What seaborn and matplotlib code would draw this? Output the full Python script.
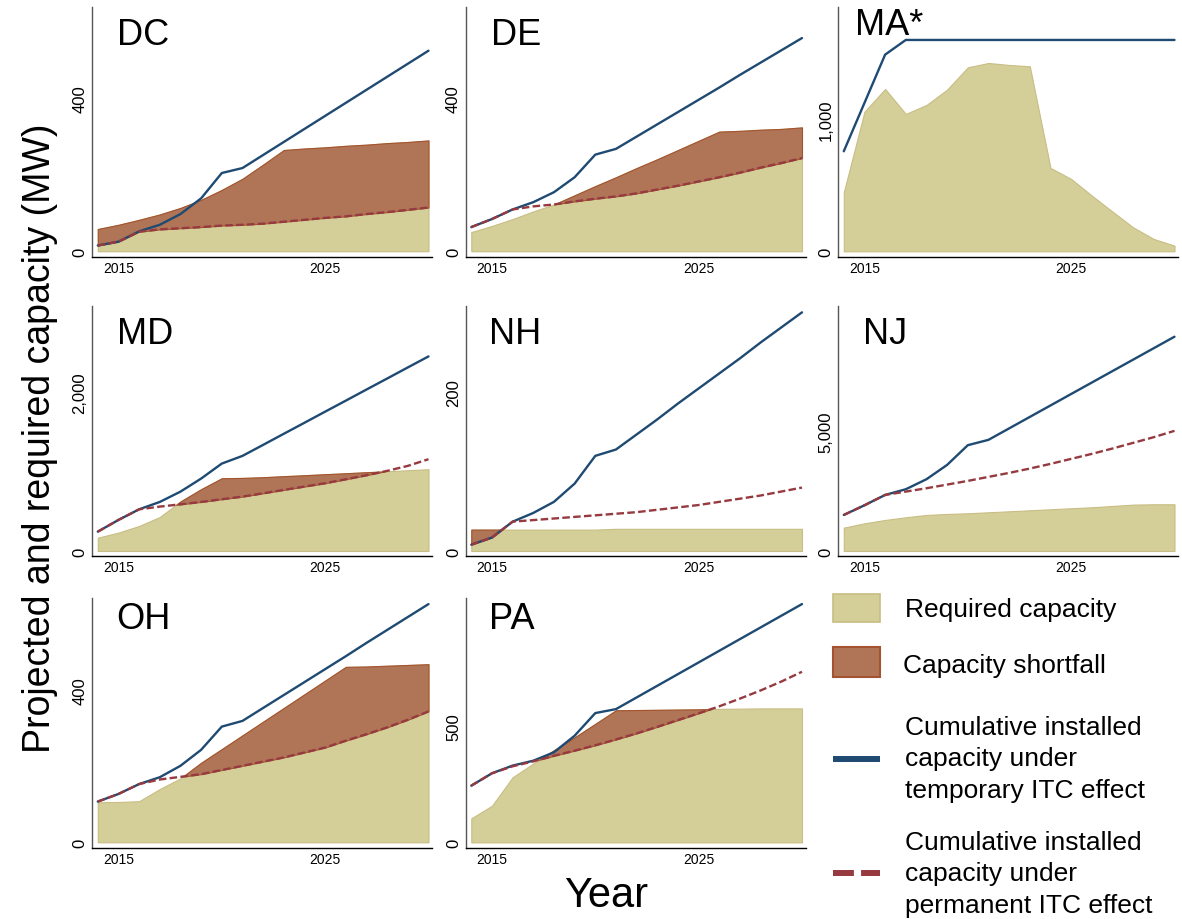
import matplotlib
matplotlib.use("Agg")
import numpy as np
import pandas as pd
import matplotlib.pyplot as plt
import seaborn as sns
from matplotlib.patches import Rectangle
from matplotlib.lines import Line2D
from matplotlib.ticker import FuncFormatter

# ---------------------------------------------------------------------------
# Data (MW), one value per year 2014-2030
# ---------------------------------------------------------------------------
YEARS = list(range(2014, 2031))

DC_REQUIRED = [58, 69, 82, 96, 113, 134, 160, 189, 226, 264, 268, 271, 275, 278, 282, 285, 289]
DC_TEMPORARY = [15, 25, 52, 69, 97, 138, 204, 217, 251, 285, 319, 353, 387, 421, 455, 489, 523]
DC_PERMANENT = [15, 25, 51, 57, 60, 63, 67, 69, 72, 77, 82, 87, 91, 97, 102, 108, 114]

DE_REQUIRED = [50, 66, 84, 104, 122, 146, 170, 193, 217, 240, 264, 288, 312, 314, 317, 319, 323]
DE_TEMPORARY = [63, 84, 109, 128, 154, 193, 252, 267, 299, 331, 363, 395, 427, 460, 492, 524, 556]
DE_PERMANENT = [63, 84, 109, 117, 122, 130, 137, 143, 151, 161, 171, 182, 193, 205, 218, 230, 243]

MA_REQUIRED = [446, 1055, 1227, 1038, 1106, 1222, 1390, 1423, 1408, 1398, 630, 547, 421, 300, 181, 93, 43]
MA_TEMPORARY = [756, 1121, 1486, 1597, 1597, 1597, 1597, 1597, 1597, 1597, 1597, 1597, 1597, 1597, 1597, 1597, 1597]

MD_REQUIRED = [168, 232, 316, 429, 625, 780, 918, 922, 931, 944, 956, 969, 981, 994, 1006, 1019, 1032]
MD_TEMPORARY = [244, 392, 526, 619, 749, 914, 1103, 1200, 1339, 1479, 1618, 1758, 1897, 2037, 2176, 2316, 2455]
MD_PERMANENT = [244, 392, 526, 560, 589, 619, 653, 686, 728, 771, 813, 855, 905, 956, 1011, 1074, 1158]

NH_REQUIRED = [27, 27, 27, 27, 27, 27, 27, 28, 28, 28, 28, 28, 28, 28, 28, 28, 28]
NH_TEMPORARY = [8, 17, 37, 48, 62, 85, 120, 128, 147, 166, 186, 205, 224, 243, 263, 282, 301]
NH_PERMANENT = [8, 17, 37, 39, 41, 43, 45, 47, 49, 52, 55, 58, 62, 66, 70, 75, 80]

NJ_REQUIRED = [978, 1159, 1299, 1411, 1508, 1550, 1578, 1620, 1662, 1704, 1746, 1788, 1830, 1885, 1941, 1955, 1955]
NJ_TEMPORARY = [1508, 1913, 2346, 2584, 3003, 3603, 4427, 4651, 5130, 5610, 6089, 6569, 7048, 7528, 8007, 8487, 8966]
NJ_PERMANENT = [1508, 1913, 2346, 2486, 2626, 2779, 2933, 3101, 3268, 3450, 3645, 3855, 4064, 4288, 4525, 4763, 5028]

OH_REQUIRED = [105, 106, 108, 140, 168, 209, 245, 281, 317, 353, 389, 425, 461, 462, 464, 466, 468]
OH_TEMPORARY = [107, 127, 153, 171, 201, 243, 304, 319, 353, 387, 421, 455, 489, 524, 558, 592, 626]
OH_PERMANENT = [107, 127, 153, 165, 172, 179, 190, 201, 212, 223, 236, 249, 267, 284, 302, 322, 344]

PA_REQUIRED = [103, 157, 279, 338, 395, 450, 508, 566, 567, 568, 569, 570, 572, 573, 574, 574, 574]
PA_TEMPORARY = [243, 296, 329, 350, 386, 457, 554, 571, 621, 671, 721, 771, 821, 871, 921, 971, 1021]
PA_PERMANENT = [243, 296, 326, 347, 371, 393, 416, 441, 467, 495, 524, 553, 583, 616, 651, 689, 731]

STATES = ["DC", "DE", "MA*", "MD", "NH", "NJ", "OH", "PA"]
Y_TICKS = {"DC": 400, "DE": 400, "MA*": 1000, "MD": 2000, "NH": 200, "NJ": 5000, "OH": 400, "PA": 500}

SERIES = {
    "DC": (DC_REQUIRED, DC_TEMPORARY, DC_PERMANENT),
    "DE": (DE_REQUIRED, DE_TEMPORARY, DE_PERMANENT),
    "MA*": (MA_REQUIRED, MA_TEMPORARY, None),
    "MD": (MD_REQUIRED, MD_TEMPORARY, MD_PERMANENT),
    "NH": (NH_REQUIRED, NH_TEMPORARY, NH_PERMANENT),
    "NJ": (NJ_REQUIRED, NJ_TEMPORARY, NJ_PERMANENT),
    "OH": (OH_REQUIRED, OH_TEMPORARY, OH_PERMANENT),
    "PA": (PA_REQUIRED, PA_TEMPORARY, PA_PERMANENT),
}

# ---------------------------------------------------------------------------
# Layout (pixels) and style
# ---------------------------------------------------------------------------
W, H = 1182, 920
COL_LEFT = [92, 465.5, 838]
ROW_TOP = [8, 307, 599]
AX_W, AX_H = 340, 250
X_LIM = (2013.72, 2030.17)
Y_LIM = {"DC": (-15, 637), "DE": (-15, 637), "MA*": (-43, 1846), "MD": (-63, 3091),
         "NH": (-6.3, 309), "NJ": (-209, 10251), "OH": (-15, 642), "PA": (-24, 1047)}
TITLE_OFFSET = {"DC": (25, 10), "DE": (25, 10), "MA*": (17, 0), "MD": (25, 10),
                "NH": (24, 10), "NJ": (25, 10), "OH": (24, 3), "PA": (24, 3)}

TAN, TAN_EDGE = "#D4CF99", "#C8BD84"
BROWN, BROWN_EDGE = "#B07557", "#A3532F"
BLUE = "#1F4A72"
RED = "#963A40"
DASH = (0, (3.2, 1.4))

sns.set_theme(style="white")
plt.rcParams["font.family"] = ["Liberation Sans", "DejaVu Sans"]
plt.rcParams["text.color"] = "black"
plt.rcParams["axes.labelcolor"] = "black"
plt.rcParams["xtick.color"] = "black"
plt.rcParams["ytick.color"] = "black"

fig = plt.figure(figsize=(W / 100, H / 100), dpi=100)

thousands = FuncFormatter(lambda v, _: f"{int(v):,}")

for i, state in enumerate(STATES):
    r, c = divmod(i, 3)
    left, top = COL_LEFT[c], ROW_TOP[r]
    ax = fig.add_axes([left / W, (H - top - AX_H) / H, AX_W / W, AX_H / H])

    required, temporary, permanent = SERIES[state]
    req = np.array(required, dtype=float)

    # Required capacity area
    ax.fill_between(YEARS, 0, req, facecolor=TAN, edgecolor=TAN_EDGE, linewidth=0.8, zorder=1)

    df = pd.DataFrame({"year": YEARS, "temporary": temporary})
    if permanent is not None:
        perm = np.array(permanent, dtype=float)
        # Shortfall: required capacity above the permanent-ITC trajectory
        ax.fill_between(YEARS, perm, req, where=req > perm, interpolate=True,
                        facecolor=BROWN, edgecolor=BROWN_EDGE, linewidth=0.8, zorder=2)
        df["permanent"] = permanent

    sns.lineplot(data=df, x="year", y="temporary", ax=ax, color=BLUE, linewidth=1.7, zorder=4)
    if permanent is not None:
        sns.lineplot(data=df, x="year", y="permanent", ax=ax, color=RED, linewidth=1.7,
                     linestyle=DASH, zorder=5)

    ax.set_xlim(*X_LIM)
    ax.set_ylim(*Y_LIM[state])
    ax.set_xticks([2015, 2025])
    ax.set_yticks([0, Y_TICKS[state]])
    ax.yaxis.set_major_formatter(thousands)
    ax.set_xlabel("")
    ax.set_ylabel("")
    ax.tick_params(axis="x", length=0, pad=3, labelsize=10, labelcolor="black")
    ax.tick_params(axis="y", length=0, pad=3.2, labelsize=12, labelcolor="black", labelrotation=90)
    for lab in ax.get_yticklabels():
        lab.set_va("center")
    sns.despine(ax=ax)
    ax.spines["left"].set_color("#555555")
    ax.spines["bottom"].set_color("black")
    ax.spines["left"].set_linewidth(1.0)
    ax.spines["bottom"].set_linewidth(1.0)
    ax.set_facecolor("white")

    ox, oy = TITLE_OFFSET[state]
    ax.text(ox / AX_W, 1 - oy / AX_H, state, transform=ax.transAxes, ha="left", va="top",
            fontsize=26, color="black", zorder=6)

# Axis titles
fig.text(40 / W, (H - 438) / H, "Projected and required capacity (MW)", rotation=90,
         ha="center", va="center", fontsize=27, color="black")
fig.text(606 / W, (H - 907) / H, "Year", ha="center", va="baseline", fontsize=30, color="black")

# Legend drawn in the empty ninth cell
lax = fig.add_axes([0, 0, 1, 1])
lax.set_xlim(0, W)
lax.set_ylim(H, 0)
lax.axis("off")
lax.patch.set_alpha(0)

lax.add_patch(Rectangle((833, 595), 47, 28, facecolor=TAN, edgecolor=TAN_EDGE, linewidth=1.2))
lax.add_patch(Rectangle((833, 648), 47, 30, facecolor=BROWN, edgecolor=BROWN_EDGE, linewidth=1.5))
lax.add_line(Line2D([833, 880], [760, 760], color=BLUE, linewidth=4.3, solid_capstyle="butt"))
lax.add_line(Line2D([833, 880], [874, 874], color=RED, linewidth=4.3,
                    linestyle=(0, (3.5, 1.2)), dash_capstyle="butt"))

LEG_FS = 19
lax.text(905, 617, "Required capacity", fontsize=LEG_FS, va="baseline", ha="left", color="black")
lax.text(903, 673, "Capacity shortfall", fontsize=LEG_FS, va="baseline", ha="left", color="black")
for y, line in zip([735, 766.5, 798], ["Cumulative installed", "capacity under", "temporary ITC effect"]):
    lax.text(905, y, line, fontsize=LEG_FS, va="baseline", ha="left", color="black")
for y, line in zip([850, 881.5, 913], ["Cumulative installed", "capacity under", "permanent ITC effect"]):
    lax.text(905, y, line, fontsize=LEG_FS, va="baseline", ha="left", color="black")

fig.savefig("out.png", dpi=100, facecolor="white")
